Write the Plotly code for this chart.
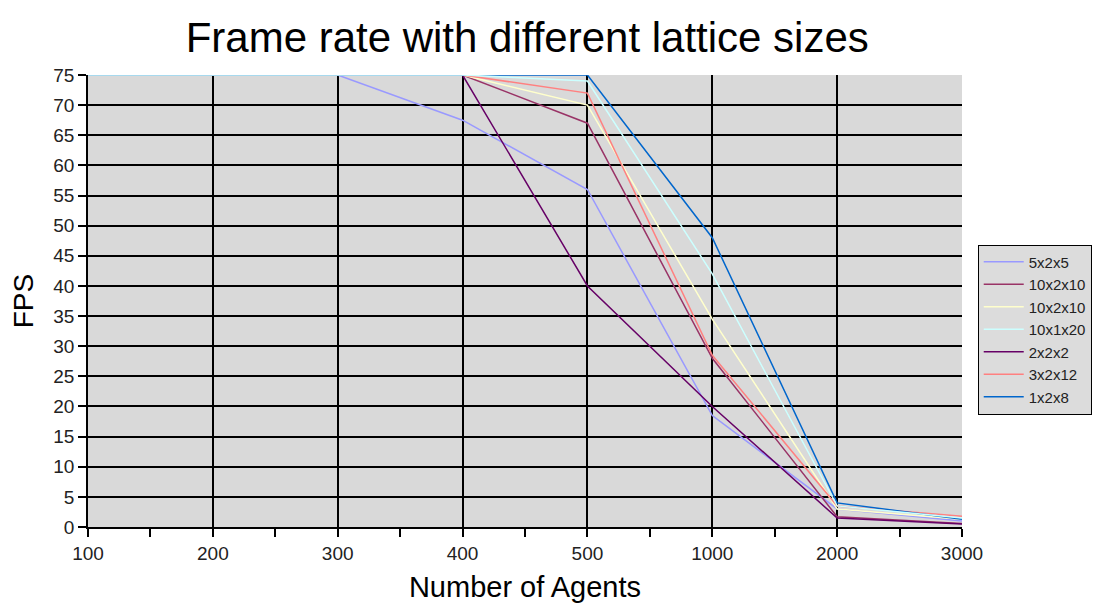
import plotly.graph_objects as go

# Number of agents (shown as evenly spaced categories)
agents = ["100", "200", "300", "400", "500", "1000", "2000", "3000"]

# Frames per second for each lattice configuration
fps_5x2x5 = [75, 75, 75, 67.5, 56, 18.5, 3, 1]
fps_10x2x10_a = [75, 75, 75, 75, 67, 28, 1.7, 0.6]
fps_10x2x10_b = [75, 75, 75, 75, 70, 34.5, 3, 1.3]
fps_10x1x20 = [75, 75, 75, 75, 74, 42, 3.5, 1.5]
fps_2x2x2 = [75, 75, 75, 75, 40, 20, 1.5, 0.5]
fps_3x2x12 = [75, 75, 75, 75, 72, 28.5, 3.5, 1.8]
fps_1x2x8 = [75, 75, 75, 75, 75, 48, 4, 1.3]

# (legend label, values, colour, legend position)
series = [
    ("5x2x5", fps_5x2x5, "#9999ff", 1),
    ("10x2x10", fps_10x2x10_a, "#993366", 2),
    ("10x2x10", fps_10x2x10_b, "#ffffcc", 3),
    ("2x2x2", fps_2x2x2, "#660066", 5),
    ("3x2x12", fps_3x2x12, "#ff8080", 6),
    ("1x2x8", fps_1x2x8, "#0066cc", 7),
    # drawn last so the pale line sits on top along the 75 FPS cap
    ("10x1x20", fps_10x1x20, "#ccffff", 4),
]

positions = list(range(len(agents)))

fig = go.Figure()
for name, values, color, rank in series:
    fig.add_trace(go.Scatter(
        x=positions, y=values, mode="lines", name=name,
        line=dict(color=color, width=1.5), legendrank=rank,
    ))

font_family = "Liberation Sans, Arial, sans-serif"

fig.update_layout(
    width=1117, height=614,
    paper_bgcolor="white",
    plot_bgcolor="#d9d9d9",
    margin=dict(l=88, r=155, t=75, b=87),
    font=dict(family=font_family, color="black"),
    title=dict(
        text="Frame rate with different lattice sizes",
        x=0.472, xanchor="center", y=0.94, yanchor="middle",
        font=dict(size=42, family=font_family, color="black"),
    ),
    legend=dict(
        x=1.018, y=0.625, xanchor="left", yanchor="top",
        bgcolor="#dcdcdc", bordercolor="black", borderwidth=1,
        font=dict(size=15, family=font_family, color="#222"),
        tracegroupgap=0, itemwidth=40,
    ),
    showlegend=True,
)

fig.update_xaxes(
    range=[0, len(agents) - 1],
    tickmode="array", tickvals=positions, ticktext=agents,
    showgrid=True, gridcolor="black", gridwidth=2,
    showline=True, linecolor="black", linewidth=1.5,
    ticks="outside", ticklen=8, tickcolor="black", tickwidth=1.5,
    minor=dict(dtick=0.5, ticks="outside", ticklen=8, tickcolor="black",
               tickwidth=1.5, showgrid=False),
    tickfont=dict(size=19, family=font_family, color="#222"),
    title=dict(text="Number of Agents", standoff=14,
               font=dict(size=29, family=font_family, color="black")),
    zeroline=False,
)

fig.update_yaxes(
    range=[0, 75], dtick=5, tick0=0,
    showgrid=True, gridcolor="black", gridwidth=2,
    showline=True, linecolor="black", linewidth=1.5,
    ticks="outside", ticklen=8, tickcolor="black", tickwidth=1.5,
    tickfont=dict(size=19, family=font_family, color="#222"),
    title=dict(text="FPS", standoff=12,
               font=dict(size=28, family=font_family, color="black")),
    zeroline=False,
)

fig.write_html("out.html")
